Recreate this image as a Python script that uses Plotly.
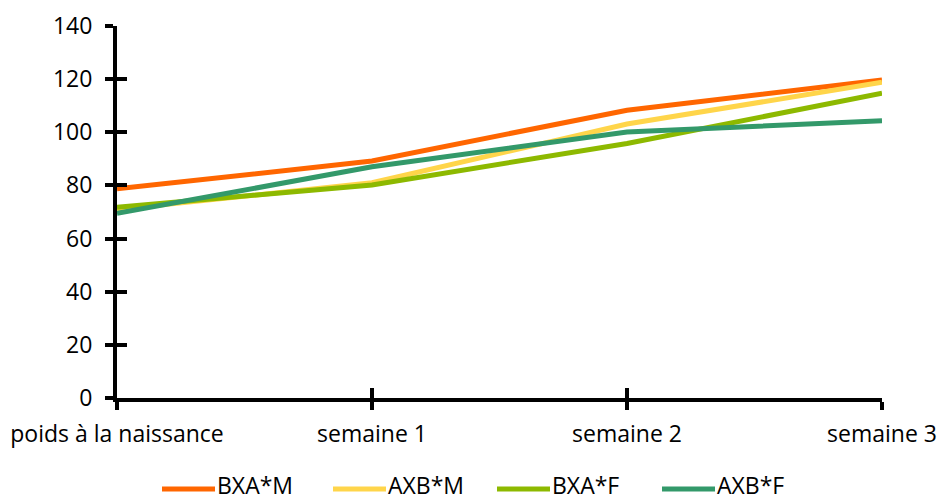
import plotly.graph_objects as go

# Weekly weight by cross and sex
categories = ["poids à la naissance", "semaine 1", "semaine 2", "semaine 3"]
bxa_m = [78.7, 89.2, 108.3, 119.7]
axb_m = [70.9, 81.0, 103.1, 118.8]
bxa_f = [71.8, 80.2, 95.8, 114.7]
axb_f = [69.5, 87.0, 100.1, 104.3]

y_ticks = [0, 20, 40, 60, 80, 100, 120, 140]

series_names = ["BXA*M", "AXB*M", "BXA*F", "AXB*F"]
series_values = [bxa_m, axb_m, bxa_f, axb_f]
series_colors = ["#FF6600", "#FFD54A", "#8DB900", "#33996A"]

W, H = 939, 500
M_L, M_R, M_T, M_B = 117, 57, 26, 102
plot_w = W - M_L - M_R
plot_h = H - M_T - M_B


def px_to_paper_x(px):
    return (px - M_L) / plot_w


def px_to_paper_y(py):
    return (H - M_B - py) / plot_h


label_font = dict(family="Open Sans", size=23, color="#000000")

fig = go.Figure()
for name, values, color in zip(series_names, series_values, series_colors):
    fig.add_trace(go.Scatter(
        x=categories, y=values, name=name, mode="lines",
        line=dict(color=color, width=5), showlegend=False,
    ))

# legend drawn below the axis: a swatch line followed by the series name
legend_line_start = [162, 333, 497, 662]
legend_line_len = 53
legend_y = 489
for name, color, x0 in zip(series_names, series_colors, legend_line_start):
    fig.add_shape(
        type="line", xref="paper", yref="paper",
        x0=px_to_paper_x(x0), x1=px_to_paper_x(x0 + legend_line_len),
        y0=px_to_paper_y(legend_y), y1=px_to_paper_y(legend_y),
        line=dict(color=color, width=5),
    )
    fig.add_annotation(
        xref="paper", yref="paper",
        x=px_to_paper_x(x0 + legend_line_len + 1), y=px_to_paper_y(H + 2),
        xanchor="left", yanchor="bottom", text=name, showarrow=False,
        font=label_font, borderpad=0,
    )

common_x = dict(
    type="category", range=[0, len(categories) - 1],
    showgrid=False, zeroline=False,
)
common_y = dict(range=[0, 140], tickvals=y_ticks, showgrid=False, zeroline=False)

fig.update_layout(
    width=W, height=H,
    margin=dict(l=M_L, r=M_R, t=M_T, b=M_B, autoexpand=False),
    paper_bgcolor="white", plot_bgcolor="white",
    font=label_font,
    showlegend=False,
    xaxis=dict(
        **common_x, showline=True, linecolor="black", linewidth=4,
        ticks="outside", ticklen=8, tickwidth=4, tickcolor="black",
        ticklabelstandoff=4, tickfont=label_font, automargin=False,
    ),
    yaxis=dict(
        **common_y, showline=True, linecolor="black", linewidth=4,
        ticks="outside", ticklen=8, tickwidth=4, tickcolor="black",
        ticklabelstandoff=8, tickfont=label_font, automargin=False,
    ),
    # overlay axes draw the inner half of the crossing tick marks
    xaxis2=dict(
        **common_x, overlaying="x", side="bottom", showline=False,
        ticks="inside", ticklen=10, tickwidth=4, tickcolor="black",
        showticklabels=False, anchor="y2", matches="x",
    ),
    yaxis2=dict(
        **common_y, overlaying="y", side="left", showline=False,
        ticks="inside", ticklen=10, tickwidth=4, tickcolor="black",
        showticklabels=False, anchor="x2", matches="y",
    ),
)

# transparent trace that puts the overlay axes on the page
fig.add_trace(go.Scatter(
    x=categories, y=bxa_m, xaxis="x2", yaxis="y2", mode="markers",
    marker=dict(size=1, opacity=0), showlegend=False, hoverinfo="skip",
))

fig.write_html("out.html")
